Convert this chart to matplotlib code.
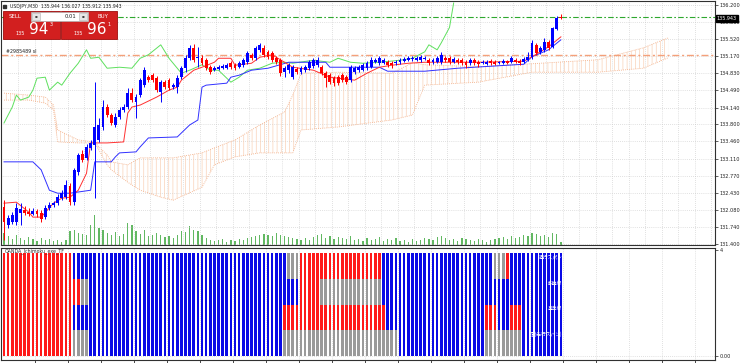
import numpy as np
import matplotlib
matplotlib.use('Agg')
import matplotlib.pyplot as plt
from matplotlib.patches import Rectangle

plt.rcParams['font.family'] = ['DejaVu Sans']
plt.rcParams['hatch.linewidth'] = 0.45

# ---------------- data ----------------
opens = [132.14,131.78,131.84,131.84,132.02,132.08,132.04,132.00,132.06,132.02,
         131.94,132.12,132.18,132.22,132.32,132.34,132.56,132.24,132.85,133.21,
         133.13,133.33,133.39,133.49,133.75,134.15,133.99,133.79,133.95,134.09,
         134.15,134.43,134.25,134.39,134.59,134.75,134.79,134.73,134.45,134.65,
         134.69,134.55,134.55,134.75,134.93,135.13,135.34,135.13,135.13,135.09,
         134.95,134.89,134.91,134.93,134.93,135.03,134.99,134.95,134.99,135.05,
         135.20,135.13,135.30,135.34,135.26,135.24,135.13,135.09,134.85,134.89,
         134.75,134.91,134.85,134.89,134.93,134.97,134.99,134.95,134.83,134.79,
         134.73,134.75,134.79,134.75,134.69,134.85,134.89,134.89,134.93,134.95,
         135.05,135.03,135.03,135.05,135.03,135.03,135.05,135.07,135.09,135.11,
         135.09,135.09,135.11,135.09,135.05,135.05,135.05,135.13,135.13,135.05,
         135.09,135.09,135.05,135.03,135.09,135.05,135.03,135.01,135.07,135.05,
         135.03,135.03,135.07,135.05,135.09,135.07,135.05,135.09,135.15,135.40,
         135.26,135.30,135.46,135.36,135.72,135.944]
highs = [132.28,131.98,132.04,132.22,132.22,132.16,132.12,132.12,132.10,132.08,
         132.18,132.24,132.26,132.40,132.48,132.68,132.62,132.93,133.23,133.29,
         133.41,133.49,134.65,133.93,134.29,134.21,134.03,134.03,134.15,134.21,
         134.53,134.53,134.41,134.73,134.95,134.79,134.83,134.77,134.69,134.69,
         134.73,134.63,134.79,134.97,135.20,135.40,135.42,135.36,135.20,135.13,
         134.99,134.97,134.99,135.01,135.03,135.07,135.03,135.07,135.13,135.28,
         135.24,135.38,135.44,135.40,135.30,135.28,135.17,135.13,134.97,135.03,
         134.99,134.95,134.97,134.99,135.09,135.13,135.15,134.99,134.87,134.83,
         134.77,134.79,134.83,134.79,134.99,134.97,134.99,135.03,135.07,135.15,
         135.13,135.17,135.13,135.09,135.07,135.09,135.13,135.15,135.17,135.17,
         135.17,135.20,135.17,135.13,135.13,135.17,135.26,135.17,135.17,135.15,
         135.13,135.13,135.09,135.13,135.13,135.09,135.09,135.09,135.11,135.09,
         135.07,135.11,135.09,135.17,135.13,135.11,135.15,135.26,135.50,135.44,
         135.38,135.54,135.50,135.76,135.98,136.027]
lows = [131.48,131.72,131.80,131.78,131.78,131.98,131.96,131.98,131.94,131.84,
        131.90,132.08,132.14,132.18,132.28,132.30,132.18,132.18,132.79,133.05,
        133.09,133.29,132.32,133.45,133.69,133.95,133.79,133.75,133.91,134.05,
        134.11,134.25,133.93,134.35,134.55,134.65,134.65,134.45,134.25,134.51,
        134.49,134.51,134.43,134.71,134.85,135.09,135.05,134.95,134.99,134.89,
        134.81,134.87,134.89,134.91,134.91,134.91,134.89,134.93,134.95,135.01,
        135.09,135.09,135.26,135.15,135.11,135.05,135.01,134.77,134.75,134.83,
        134.71,134.81,134.81,134.85,134.89,134.93,134.95,134.79,134.55,134.61,
        134.57,134.59,134.65,134.61,134.65,134.81,134.85,134.87,134.89,134.93,
        135.03,134.99,135.01,134.95,134.93,134.99,135.01,135.05,135.07,135.07,
        135.07,135.05,135.09,134.99,135.01,135.03,135.01,135.05,135.01,135.03,
        135.01,134.99,134.93,134.99,134.99,134.95,135.01,134.99,134.99,134.99,
        135.01,135.01,135.01,135.03,135.03,134.99,135.03,135.07,135.11,135.20,
        135.22,135.26,135.30,135.34,135.70,135.912]
closes = [131.84,131.92,131.98,132.12,132.10,132.02,132.00,132.06,132.00,131.90,
          132.12,132.18,132.22,132.34,132.42,132.58,132.24,132.89,133.19,133.09,
          133.35,133.43,133.75,133.79,134.15,133.99,133.83,133.95,134.09,134.15,
          134.43,134.29,134.35,134.69,134.89,134.69,134.69,134.49,134.65,134.55,
          134.53,134.59,134.73,134.93,135.13,135.34,135.09,135.15,135.03,134.93,
          134.85,134.93,134.95,134.97,134.99,134.95,134.93,135.03,135.09,135.24,
          135.13,135.34,135.40,135.20,135.15,135.09,135.05,134.83,134.93,134.99,
          134.95,134.85,134.93,134.95,135.05,135.09,135.09,134.83,134.73,134.65,
          134.63,134.63,134.69,134.65,134.95,134.93,134.95,134.99,135.03,135.09,
          135.09,135.13,135.09,134.99,134.99,135.05,135.09,135.11,135.13,135.13,
          135.13,135.15,135.13,135.03,135.09,135.13,135.20,135.09,135.05,135.11,
          135.05,135.03,134.99,135.09,135.03,135.01,135.05,135.05,135.03,135.01,
          135.05,135.07,135.03,135.13,135.05,135.03,135.11,135.15,135.44,135.24,
          135.34,135.46,135.34,135.74,135.944,135.943]
volumes = [1200,900,600,1000,700,500,800,600,400,700,500,600,400,500,300,500,
           1400,1500,1200,1100,1000,2000,3000,1700,1500,1200,1000,1300,900,1100,
           2200,2000,1400,1100,1500,900,1000,1200,1000,800,900,700,1000,1400,1300,
           1900,1500,1400,1000,700,500,400,500,600,300,500,400,600,500,700,800,900,
           1000,1100,1000,900,1200,1000,900,800,700,600,500,700,500,800,1000,1100,
           700,900,600,800,700,600,900,500,600,400,700,500,600,800,400,600,500,700,
           400,500,300,600,400,500,700,600,500,800,900,700,500,600,400,700,600,500,
           400,600,500,300,500,600,700,800,600,900,700,800,1000,900,1200,1100,900,
           1000,800,1200,1100,300]

tenkan_bar = [0,3,6,7,9,12,14,16,18,20,21,25,29,30,31,33,37,40,42,43,46,48,51,52,55,
              56,60,62,65,68,70,75,79,85,88,91,94,98,102,115,126,128,132,135]
tenkan_val = [132.22,132.24,132.04,131.94,131.94,132.22,132.32,132.34,132.48,132.82,
              133.43,133.43,133.45,134.03,134.15,134.19,134.35,134.49,134.55,134.69,
              134.89,134.95,135.05,135.13,135.13,134.99,135.03,135.15,135.20,135.05,
              134.95,134.89,134.75,134.69,134.83,134.95,134.99,135.03,135.05,135.05,
              135.07,135.16,135.36,135.56]
kijun_bar = [0,7,9,11,13,16,21,22,26,27,28,32,33,35,42,45,47,48,49,54,55,57,60,64,69,
             78,79,91,93,102,110,126,128,132,135]
kijun_val = [133.05,133.05,132.89,132.48,132.42,132.42,132.48,133.05,133.05,133.15,
             133.23,133.25,133.35,133.53,133.55,133.79,133.89,134.55,134.59,134.63,
             134.75,134.79,134.89,134.93,135.05,135.05,134.95,134.95,134.87,134.87,
             134.93,135.01,135.16,135.30,135.50]
chikou_bar = [0,2,3,4,6,7,8,10,11,13,14,16,18,20,21,23,25,28,31,33,35,38,40,43,45,48,
              50,52,54,55,57,59,62,65,68,70,75,79,81,84,87,91,96,99,102,103,105,106,
              108,109]
chikou_val = [133.83,134.15,134.39,134.29,134.35,134.49,134.73,134.75,134.49,134.65,
              134.59,134.83,135.03,135.30,135.13,135.15,134.93,134.95,134.93,135.13,
              135.20,135.40,135.13,134.83,134.89,135.00,134.89,134.89,134.73,134.65,
              134.75,134.89,134.93,135.03,135.05,135.03,135.09,135.05,135.13,135.05,
              135.03,135.05,135.09,135.13,135.26,135.40,135.30,135.44,135.75,136.24]
cloud_bar = [0,6,10,12,13,18,22,23,25,26,30,33,38,41,48,51,56,62,68,70,72,81,94,99,
             102,115,128,144,155,161]
span_a = [134.43,134.39,134.35,134.19,133.69,133.49,133.45,133.35,133.19,133.05,
          132.99,133.13,133.13,133.13,133.23,133.33,133.49,133.79,134.05,134.39,
          134.83,134.85,134.83,135.04,135.00,134.96,135.02,135.10,135.34,135.54]
span_b = [134.29,134.29,134.23,134.09,133.45,133.43,133.43,133.29,132.99,132.89,
          132.64,132.48,132.34,132.28,132.54,132.99,133.15,133.23,133.23,133.23,
          133.69,133.75,133.89,133.99,134.59,134.65,134.85,134.85,134.93,135.14]

sl_price = 135.19
line_price = 135.965
last_price = 135.943
price_ticks = [131.400,131.740,132.080,132.430,132.770,133.110,133.460,133.800,
               134.140,134.490,134.830,135.170,135.520,135.860,136.200]

# indicator rows (bottom -> top): R red, B blue, G gray
row_d = "R"*17 + "G"*4 + "B"*47 + "G"*28 + "B"*21 + "G"*9 + "B"*10
row_c = "R"*17 + "B"*51 + "R"*25 + "B"*24 + "R"*3 + "B"*3 + "R"*3 + "B"*10
row_b = "R"*19 + "G"*2 + "B"*51 + "R"*5 + "G"*15 + "B"*44
row_a = "R"*17 + "B"*52 + "G"*3 + "R"*20 + "B"*27 + "G"*3 + "R"*1 + "B"*13
row_labels = ["雲(先行スパン)", "基準線", "転換線", "遅行スパン"]

# ---------------- figure ----------------
W, H = 740, 363
fig = plt.figure(figsize=(W/100, H/100), dpi=100)
fig.patch.set_facecolor('white')

def box(l, t, r, b):
    return [l/W, 1 - b/H, (r-l)/W, (b-t)/H]

N = len(closes)
x = np.arange(N)
XL = (-0.73, 172.36)
grid_kw = dict(color='#c4c4c4', lw=0.5, ls=(0, (1, 2)))

axv = fig.add_axes(box(1, 1, 715, 245))
axv.set_xlim(*XL); axv.set_ylim(0, 24400); axv.axis('off'); axv.set_zorder(0)
axv.bar(x, volumes, width=0.3, color='#62b862', linewidth=0)

ax = fig.add_axes(box(1, 1, 715, 245))
ax.set_zorder(1); ax.patch.set_alpha(0)
ax.set_xlim(*XL); ax.set_ylim(131.38, 136.28)
for v in np.arange(3.5, 172, 4):
    ax.axvline(v, **grid_kw, zorder=0)
for t in price_ticks:
    ax.axhline(t, **grid_kw, zorder=0)

# cloud
ax.fill_between(cloud_bar, span_a, span_b, facecolor='none', edgecolor='#f8cdb0',
                hatch='||||', linewidth=0, zorder=1)
ax.plot(cloud_bar, span_a, ls=(0, (1, 1.5)), color='#f2a77c', lw=0.6, zorder=1)
ax.plot(cloud_bar, span_b, ls=(0, (1, 1.5)), color='#f2a77c', lw=0.6, zorder=1)

ax.axhline(sl_price, color='#f4a07a', ls=(0, (5, 2, 1.5, 2)), lw=1.0, zorder=2)
ax.axhline(line_price, color='#2ea82e', ls=(0, (5, 2, 1.5, 2)), lw=0.8, zorder=2)

ax.plot(chikou_bar, chikou_val, color='#5ee05e', lw=0.7, zorder=3)
ax.plot(kijun_bar, kijun_val, color='#3030ff', lw=0.7, zorder=3)
ax.plot(tenkan_bar, tenkan_val, color='#ff3030', lw=0.7, zorder=3)

o = np.array(opens); c = np.array(closes)
cols = np.where(c >= o, '#0000ff', '#ff0000')
ax.vlines(x, lows, highs, colors=cols, lw=0.7, zorder=4)
ax.bar(x, np.maximum(np.abs(c - o), 0.014), bottom=np.minimum(o, c), width=0.7,
       color=cols, linewidth=0, zorder=5)

ax.text(0.5, 135.22, "#2985489 sl", fontsize=3.4, color='#202020', va='bottom', zorder=6)

ax.yaxis.tick_right()
ax.set_yticks(price_ticks)
ax.set_yticklabels([f"{t:.3f}" for t in price_ticks])
ax.tick_params(axis='y', labelsize=3.6, length=2, width=0.5, pad=1.5, colors='#202020')
ax.set_xticks([])
for s in ax.spines.values():
    s.set_color('#303030'); s.set_linewidth(0.8)

# lower indicator panel
axl = fig.add_axes(box(1, 248, 715, 360))
axl.set_xlim(*XL); axl.set_ylim(-0.155, 4.194)
for v in np.arange(7.5, 172, 8):
    axl.axvline(v, **grid_kw, zorder=0)
axl.axhline(0, **grid_kw, zorder=0)
cmap = {'R': '#ff1a1a', 'B': '#0a0ae6', 'G': '#9a9a9a'}
for r, row in enumerate([row_d, row_c, row_b, row_a]):
    axl.bar(x, 1, bottom=r, width=0.66, color=[cmap[ch] for ch in row],
            linewidth=0, zorder=2)
    axl.text(135.3, r + 0.93, row_labels[r], fontsize=3.4, color='white', ha='right',
             va='top', family=['Noto Sans CJK JP', 'DejaVu Sans'], zorder=3)
axl.text(0.3, 4.17, "OANDA_Ichimoku_exe_TF", fontsize=3.4, color='#303030', va='top', zorder=3)
axl.yaxis.tick_right()
axl.set_yticks([0, 4.12])
axl.set_yticklabels(["0.00", "4"])
axl.tick_params(axis='y', labelsize=3.6, length=2, width=0.5, pad=1.5, colors='#202020')
axl.set_xticks(np.arange(7.5, 172, 8))
axl.tick_params(axis='x', length=2, width=0.5, labelbottom=False)
for s in axl.spines.values():
    s.set_color('#303030'); s.set_linewidth(0.8)

# overlay: trade panel and price tag
ov = fig.add_axes([0, 0, 1, 1]); ov.set_zorder(10); ov.patch.set_alpha(0)
ov.set_xlim(0, W); ov.set_ylim(H, 0); ov.axis('off')
ov.add_patch(Rectangle((3, 4.5), 3, 3, color='#303030'))
ov.text(10, 6.5, "USDJPY,M30  135.944 136.027 135.912 135.943", fontsize=3.3,
        color='#202020', va='center')
ov.add_patch(Rectangle((3, 11), 56.5, 28, facecolor='#d21f1f', edgecolor='#9e0d0d', lw=0.6))
ov.add_patch(Rectangle((60.5, 11), 56.5, 28, facecolor='#d21f1f', edgecolor='#9e0d0d', lw=0.6))
ov.add_patch(Rectangle((31, 12), 57, 8.5, facecolor='white', edgecolor='#b0b0b0', lw=0.5))
ov.add_patch(Rectangle((32, 13), 8, 6.5, facecolor='#e6e6e6', edgecolor='#b0b0b0', lw=0.4))
ov.add_patch(Rectangle((79, 13), 8, 6.5, facecolor='#e6e6e6', edgecolor='#b0b0b0', lw=0.4))
ov.text(36, 16.3, "▪", fontsize=3, ha='center', va='center', color='#404040')
ov.text(83, 16.3, "▪", fontsize=3, ha='center', va='center', color='#404040')
ov.text(76, 16.3, "0.01", fontsize=3.8, ha='right', va='center', color='#202020')
ov.text(15.5, 16, "SELL", fontsize=4, ha='center', va='center', color='white')
ov.text(103, 16, "BUY", fontsize=4, ha='center', va='center', color='white')
ov.text(20.5, 33.5, "135", fontsize=3.6, ha='center', va='center', color='white')
ov.text(38.5, 30, "94", fontsize=11, ha='center', va='center', color='white')
ov.text(51, 25, "3", fontsize=3.6, ha='center', va='center', color='white')
ov.text(78.5, 33.5, "135", fontsize=3.6, ha='center', va='center', color='white')
ov.text(96.5, 30, "96", fontsize=11, ha='center', va='center', color='white')
ov.text(109.5, 25, "1", fontsize=3.6, ha='center', va='center', color='white')
ov.add_patch(Rectangle((716, 14.5), 22, 7, color='black'))
ov.text(727, 18, f"{last_price:.3f}", fontsize=3.5, ha='center', va='center', color='white')

fig.savefig('out.png', dpi=100, facecolor='white')
